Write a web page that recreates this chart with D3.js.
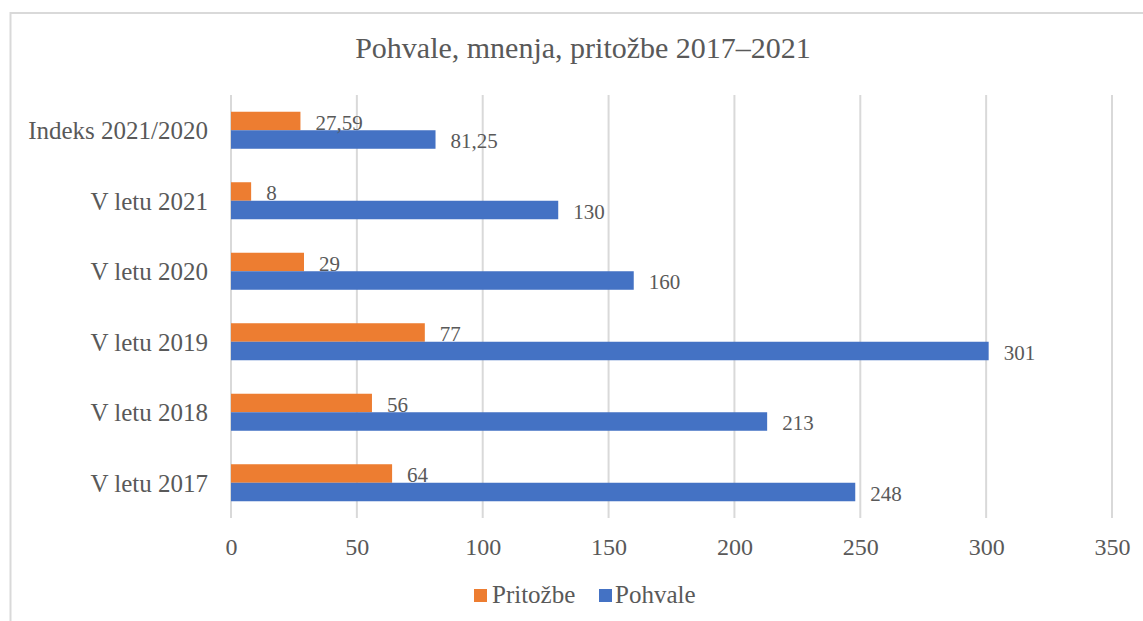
<!DOCTYPE html>
<html>
<head>
<meta charset="utf-8">
<script src="https://cdn.jsdelivr.net/npm/d3@7"></script>
<style>
  html, body { margin: 0; padding: 0; background: #fff; }
  svg { display: block; }
  text { font-family: "Liberation Serif", "Times New Roman", serif; fill: #595959; }
</style>
</head>
<body>
<svg id="chart" width="1143" height="621"></svg>
<script>
// ---- data ----
const categories = ["Indeks 2021/2020", "V letu 2021", "V letu 2020", "V letu 2019", "V letu 2018", "V letu 2017"];
const seriesNames = ["Pritožbe", "Pohvale"];
const pritozbe = [27.59, 8, 29, 77, 56, 64];
const pohvale = [81.25, 130, 160, 301, 213, 248];
const xTicks = [0, 50, 100, 150, 200, 250, 300, 350];
const colors = ["#ED7D31", "#4472C4"];
const title = "Pohvale, mnenja, pritožbe 2017–2021";

const seriesValues = [pritozbe, pohvale];

const svg = d3.select("#chart");
const W = 1143, H = 621;

// chart border (top & left visible)
svg.append("path")
  .attr("d", `M10.5,${H} V13 H${W}`)
  .attr("fill", "none")
  .attr("stroke", "#d9d9d9")
  .attr("stroke-width", 2);

// title
svg.append("text")
  .attr("x", 583).attr("y", 58)
  .attr("text-anchor", "middle")
  .style("font-size", "30px")
  .text(title);

const x = d3.scaleLinear().domain([0, 350]).range([231, 1112]);
const y = d3.scaleBand().domain(categories).range([95, 518])
  .paddingInner(0.475).paddingOuter(0.2375);
const ySub = d3.scaleBand().domain(seriesNames).range([0, y.bandwidth()]).padding(0);

// gridlines
svg.append("g").selectAll("line")
  .data(xTicks).join("line")
  .attr("x1", d => x(d)).attr("x2", d => x(d))
  .attr("y1", 95).attr("y2", 518)
  .attr("stroke", "#d9d9d9").attr("stroke-width", 2);

// x axis tick labels
const xAxis = d3.axisBottom(x).tickValues(xTicks).tickSize(0).tickPadding(0);
const gx = svg.append("g").attr("transform", "translate(0,538)").call(xAxis);
gx.select(".domain").remove();
gx.selectAll("text")
  .attr("dy", "0.71em")
  .style("font-size", "24px")
  .style("font-family", '"Liberation Serif", serif')
  .attr("fill", "#595959");

// y axis labels
const yAxis = d3.axisLeft(y).tickSize(0).tickPadding(0);
const gy = svg.append("g").attr("transform", "translate(208,0)").call(yAxis);
gy.select(".domain").remove();
gy.selectAll("text")
  .attr("dy", "0.35em")
  .style("font-size", "25px")
  .style("font-family", '"Liberation Serif", serif')
  .attr("fill", "#595959");

const fmt = v => String(v).replace(".", ",");

// bars first, then labels on top
const barLayer = svg.append("g");
const labelLayer = svg.append("g");
seriesNames.forEach((s, si) => {
  const data = categories.map((c, i) => ({ c, v: seriesValues[si][i] }));
  barLayer.append("g").selectAll("rect").data(data).join("rect")
    .attr("x", x(0))
    .attr("y", d => y(d.c) + ySub(s))
    .attr("width", d => x(d.v) - x(0))
    .attr("height", ySub.bandwidth())
    .attr("fill", colors[si]);
  labelLayer.append("g").selectAll("text").data(data).join("text")
    .attr("x", d => x(d.v) + 15)
    .attr("y", d => y(d.c) + ySub(s) + ySub.bandwidth() / 2 + 1.5)
    .attr("dy", "0.35em")
    .style("font-size", "21px")
    .text(d => fmt(d.v));
});

// legend
const legendItems = [
  { name: seriesNames[0], color: colors[0], x: 474, tx: 492 },
  { name: seriesNames[1], color: colors[1], x: 599, tx: 615 }
];
const lg = svg.append("g");
legendItems.forEach(it => {
  lg.append("rect").attr("x", it.x).attr("y", 589).attr("width", 13).attr("height", 13).attr("fill", it.color);
  lg.append("text").attr("x", it.tx).attr("y", 603).style("font-size", "25px").text(it.name);
});
</script>
</body>
</html>
